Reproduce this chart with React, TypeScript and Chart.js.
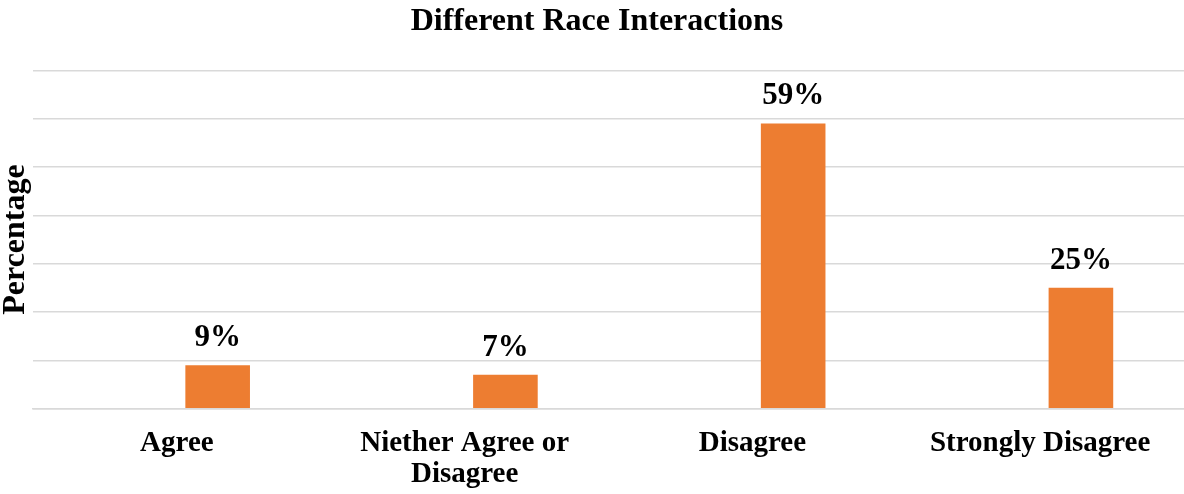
import React, { useEffect, useRef } from "react";
import { Chart, registerables } from "chart.js";

Chart.register(...registerables);

const categories: (string | string[])[] = [
  "Agree",
  ["Niether Agree or", "Disagree"],
  "Disagree",
  "Strongly Disagree",
];
const percentages: number[] = [9, 7, 59, 25];
// Empty companion series: keeps the bars in the right-hand slot of each group
const spacer: (number | null)[] = [null, null, null, null];
const yTicks: number[] = [0, 10, 20, 30, 40, 50, 60, 70];

const SERIF = "'Liberation Serif', 'Times New Roman', serif";
const ORANGE = "#ED7D31";
const GRID = "#D9D9D9";

const valueLabels = {
  id: "valueLabels",
  afterDatasetsDraw(chart: Chart) {
    const { ctx } = chart;
    const meta = chart.getDatasetMeta(1);
    ctx.save();
    ctx.font = `bold 31px ${SERIF}`;
    ctx.fillStyle = "#000";
    ctx.textAlign = "center";
    ctx.textBaseline = "alphabetic";
    meta.data.forEach((bar: any, i: number) => {
      ctx.fillText(`${percentages[i]}%`, bar.x, bar.y - 19);
    });
    ctx.restore();
  },
};

export default function App() {
  const canvasRef = useRef<HTMLCanvasElement | null>(null);

  useEffect(() => {
    if (!canvasRef.current) return;
    const chart = new Chart(canvasRef.current, {
      type: "bar",
      data: {
        labels: categories,
        datasets: [
          { label: "", data: spacer, backgroundColor: "rgba(0,0,0,0)" },
          { label: "Percentage", data: percentages, backgroundColor: ORANGE },
        ],
      },
      options: {
        responsive: false,
        maintainAspectRatio: false,
        animation: false,
        layout: { padding: { left: 10, right: 0, top: 0, bottom: 0 } },
        datasets: {
          bar: { categoryPercentage: 0.567, barPercentage: 0.792 },
        },
        plugins: {
          legend: { display: false },
          tooltip: { enabled: false },
          title: {
            display: true,
            text: "Different Race Interactions",
            color: "#000",
            font: { family: SERIF, size: 32, weight: "bold", lineHeight: 1.2 },
            padding: { top: 2.6, bottom: 29.3 },
          },
        },
        scales: {
          x: {
            grid: { display: false, drawTicks: false },
            border: { display: true, color: GRID, width: 1.5 },
            ticks: {
              color: "#000",
              padding: 19,
              maxRotation: 0,
              autoSkip: false,
              font: { family: SERIF, size: 29, weight: "bold", lineHeight: 1.08 },
            },
            afterFit(scale: any) {
              scale.height = 85.3;
            },
          },
          y: {
            min: 0,
            max: 70,
            afterBuildTicks(scale: any) {
              scale.ticks = yTicks.map((v) => ({ value: v }));
            },
            grid: { color: GRID, lineWidth: 1.5, drawTicks: false },
            border: { display: false },
            ticks: { display: false },
            title: {
              display: true,
              text: "Percentage",
              color: "#000",
              font: { family: SERIF, size: 32, weight: "bold", lineHeight: "12px" },
              padding: 0,
            },
            afterFit(scale: any) {
              scale.width = 23;
            },
          },
        },
      },
      plugins: [valueLabels],
    });
    return () => chart.destroy();
  }, []);

  return (
    <div style={{ position: "absolute", left: 0, top: 0, width: 1184, height: 494, background: "#fff" }}>
      <canvas ref={canvasRef} width={1184} height={494} style={{ display: "block" }} />
    </div>
  );
}
